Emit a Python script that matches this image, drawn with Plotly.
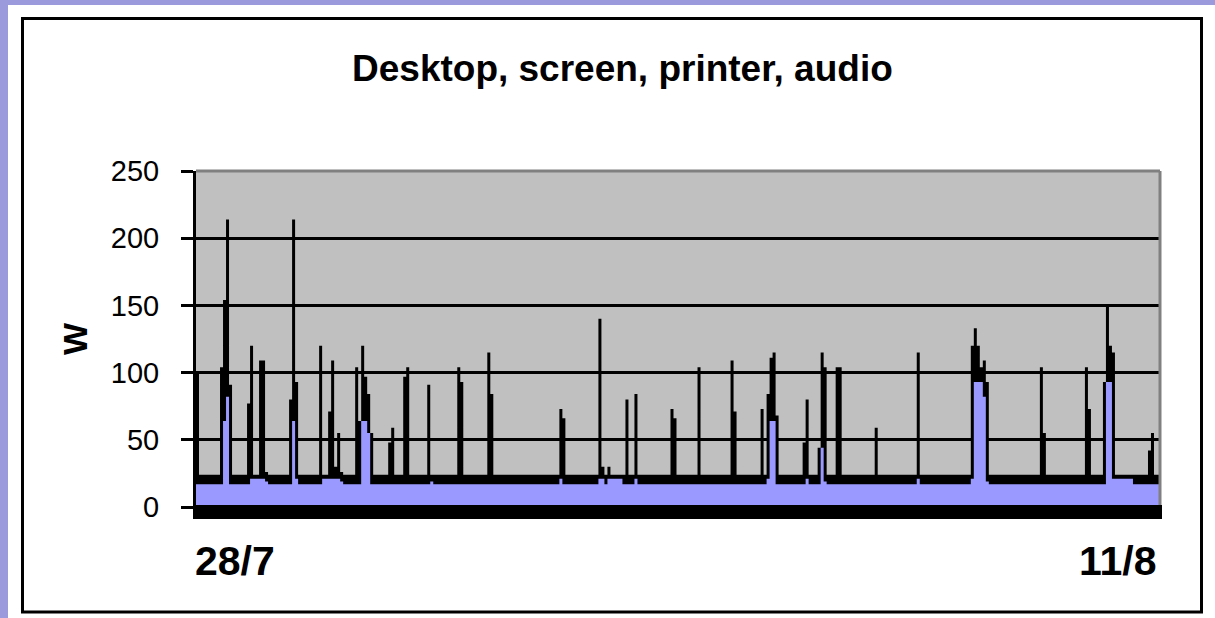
import plotly.graph_objects as go

FONT = "Liberation Sans, Arial"

# hourly readings, 28/7 -> 11/8 (black = total, lavender = lower series)
total_w = [
    100, 24, 24, 24, 24, 24, 24, 24, 104, 154, 214, 91, 24, 24, 24, 24, 24, 77, 120, 24, 24, 109, 109, 26,
    24, 24, 24, 24, 24, 24, 24, 80, 214, 93, 24, 24, 24, 24, 24, 24, 24, 120, 24, 24, 71, 109, 30, 55,
    26, 24, 24, 24, 24, 104, 64, 120, 97, 84, 55, 24, 24, 24, 24, 24, 48, 59, 24, 24, 24, 97, 104, 24,
    24, 24, 24, 24, 24, 91, 24, 24, 24, 24, 24, 24, 24, 24, 24, 104, 93, 24, 24, 24, 24, 24, 24, 24,
    24, 115, 84, 24, 24, 24, 24, 24, 24, 24, 24, 24, 24, 24, 24, 24, 24, 24, 24, 24, 24, 24, 24, 24,
    24, 73, 66, 24, 24, 24, 24, 24, 24, 24, 24, 24, 24, 24, 140, 30, 24, 30, 24, 24, 24, 24, 24, 80,
    24, 24, 84, 24, 24, 24, 24, 24, 24, 24, 24, 24, 24, 24, 73, 66, 24, 24, 24, 24, 24, 24, 24, 104,
    24, 24, 24, 24, 24, 24, 24, 24, 24, 24, 109, 71, 24, 24, 24, 24, 24, 24, 24, 24, 73, 24, 84, 111,
    115, 68, 24, 24, 24, 24, 24, 24, 24, 24, 48, 80, 24, 24, 24, 44, 115, 104, 24, 24, 24, 104, 104, 24,
    24, 24, 24, 24, 24, 24, 24, 24, 24, 24, 59, 24, 24, 24, 24, 24, 24, 24, 24, 24, 24, 24, 24, 24,
    115, 24, 24, 24, 24, 24, 24, 24, 24, 24, 24, 24, 24, 24, 24, 24, 24, 24, 120, 133, 120, 104, 109, 93,
    24, 24, 24, 24, 24, 24, 24, 24, 24, 24, 24, 24, 24, 24, 24, 24, 24, 104, 55, 24, 24, 24, 24, 24,
    24, 24, 24, 24, 24, 24, 24, 24, 104, 73, 24, 24, 24, 24, 93, 150, 120, 115, 24, 24, 24, 24, 24, 24,
    24, 24, 24, 24, 24, 42, 55, 24, 24,
]

lower_w = [
    17, 17, 17, 17, 17, 17, 17, 17, 17, 64, 82, 17, 17, 17, 17, 17, 17, 17, 21, 21, 21, 21, 21, 19,
    17, 17, 17, 17, 17, 17, 17, 17, 64, 21, 17, 17, 17, 17, 17, 17, 17, 17, 21, 21, 21, 21, 21, 21,
    19, 17, 17, 17, 17, 17, 17, 64, 64, 55, 17, 17, 17, 17, 17, 17, 17, 17, 17, 17, 17, 17, 17, 17,
    17, 17, 17, 17, 17, 17, 19, 17, 17, 17, 17, 17, 17, 17, 17, 17, 17, 17, 17, 17, 17, 17, 17, 17,
    17, 17, 17, 17, 17, 17, 17, 17, 17, 17, 17, 17, 17, 17, 17, 17, 17, 17, 17, 17, 17, 17, 17, 17,
    17, 21, 17, 17, 17, 17, 17, 17, 17, 17, 17, 17, 17, 17, 21, 21, 17, 21, 21, 21, 21, 21, 17, 17,
    17, 17, 21, 17, 17, 17, 17, 17, 17, 17, 17, 17, 17, 17, 17, 17, 17, 17, 17, 17, 17, 17, 17, 17,
    17, 17, 17, 17, 17, 17, 17, 17, 17, 17, 17, 17, 17, 17, 17, 17, 17, 17, 17, 17, 17, 17, 21, 64,
    64, 17, 17, 17, 17, 17, 17, 17, 17, 17, 17, 21, 17, 17, 17, 17, 44, 19, 17, 17, 17, 17, 17, 17,
    17, 17, 17, 17, 17, 17, 17, 17, 17, 17, 17, 17, 17, 17, 17, 17, 17, 17, 17, 17, 17, 17, 17, 17,
    21, 17, 17, 17, 17, 17, 17, 17, 17, 17, 17, 17, 17, 17, 17, 17, 17, 17, 21, 93, 93, 93, 82, 19,
    17, 17, 17, 17, 17, 17, 17, 17, 17, 17, 17, 17, 17, 17, 17, 17, 17, 17, 17, 17, 17, 17, 17, 17,
    17, 17, 17, 17, 17, 17, 17, 17, 17, 17, 17, 17, 17, 17, 17, 93, 93, 21, 21, 21, 21, 21, 21, 21,
    17, 17, 17, 17, 17, 17, 17, 17, 17,
]

date_labels = ["28/7", "11/8"]
y_ticks = [0, 50, 100, 150, 200, 250]

# plot area in page pixels
L, R, T, B = 196, 1160, 171, 507


def px_x(px):
    return (px - L) / (R - L)


def px_y(py):
    return (B - py) / (B - T)


n = len(total_w)
xs = list(range(n + 1))

fig = go.Figure()
fig.add_trace(go.Scatter(
    x=xs, y=total_w + [total_w[-1]], mode="lines", line=dict(width=0, color="black", shape="hv"),
    fill="tozeroy", fillcolor="black", hoverinfo="skip", showlegend=False,
))
fig.add_trace(go.Scatter(
    x=xs, y=lower_w + [lower_w[-1]], mode="lines", line=dict(width=0, color="#9999FF", shape="hv"),
    fill="tozeroy", fillcolor="#9999FF", hoverinfo="skip", showlegend=False,
))

shapes = [
    # slide background strips
    dict(type="rect", xref="paper", yref="paper", x0=px_x(0), x1=px_x(8), y0=px_y(618), y1=px_y(0),
         fillcolor="#9A9ADC", line_width=0, layer="below"),
    dict(type="rect", xref="paper", yref="paper", x0=px_x(0), x1=px_x(1215), y0=px_y(5), y1=px_y(0),
         fillcolor="#9A9ADC", line_width=0, layer="below"),
    # chart frame
    dict(type="rect", xref="paper", yref="paper", x0=px_x(22.5), x1=px_x(1201.5), y0=px_y(612), y1=px_y(18.5),
         line=dict(color="black", width=3), fillcolor="rgba(0,0,0,0)"),
    # plot border top/right
    dict(type="line", xref="paper", yref="paper", x0=0, x1=1, y0=1, y1=1, line=dict(color="#808080", width=3)),
    dict(type="line", xref="paper", yref="paper", x0=1, x1=1, y0=0, y1=1, line=dict(color="#808080", width=3)),
    # heavy floor band
    dict(type="rect", xref="paper", yref="paper", x0=px_x(193), x1=px_x(1162), y0=px_y(519), y1=px_y(505),
         fillcolor="black", line_width=0),
]

annotations = [
    dict(text="<b>Desktop, screen, printer, audio</b>", xref="paper", yref="paper",
         x=px_x(622), y=px_y(68), xanchor="center", yanchor="middle", showarrow=False,
         font=dict(family=FONT, size=37, color="black")),
    dict(text="<b>W</b>", xref="paper", yref="paper", x=px_x(75), y=px_y(339), textangle=-90,
         xanchor="center", yanchor="middle", showarrow=False, font=dict(family=FONT, size=34, color="black")),
    dict(text="<b>%s</b>" % date_labels[0], xref="paper", yref="paper", x=px_x(193), y=px_y(561),
         xanchor="left", yanchor="middle", showarrow=False, font=dict(family=FONT, size=41, color="black")),
    dict(text="<b>%s</b>" % date_labels[1], xref="paper", yref="paper", x=px_x(1159), y=px_y(561),
         xanchor="right", yanchor="middle", showarrow=False, font=dict(family=FONT, size=41, color="black")),
]

fig.update_layout(
    width=1215, height=618,
    margin=dict(l=L, r=1215 - R, t=T, b=618 - B, pad=0),
    paper_bgcolor="white", plot_bgcolor="#C0C0C0",
    font=dict(family=FONT, color="black"),
    shapes=shapes, annotations=annotations,
)
fig.update_xaxes(range=[0, n], showgrid=False, zeroline=False, showticklabels=False,
                 ticks="", showline=False, fixedrange=True)
fig.update_yaxes(range=[0, 250], tickvals=y_ticks, showgrid=True, gridcolor="black", gridwidth=3,
                 zeroline=False, showline=True, linecolor="black", linewidth=3,
                 ticks="outside", ticklen=12, tickwidth=3, tickcolor="black",
                 ticklabelstandoff=16, tickfont=dict(family=FONT, size=29, color="black"))

# drop the page's default body margin so the figure sits at the window origin
fig.write_html("out.html", config={"displayModeBar": False},
               post_script="document.body.style.margin='0';document.body.style.overflow='hidden';")
